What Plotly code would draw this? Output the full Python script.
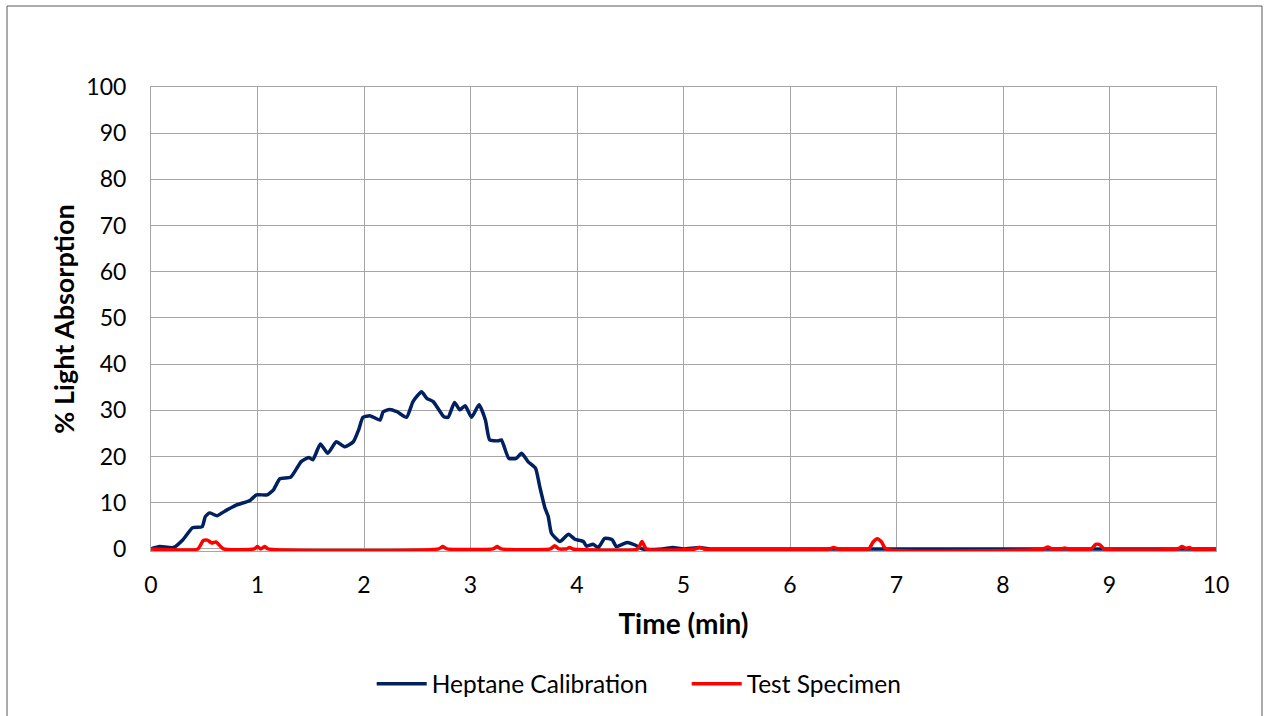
import plotly.graph_objects as go

heptane_time = [0.0, 0.08, 0.21, 0.30, 0.39, 0.48, 0.51, 0.55, 0.62, 0.71, 0.80, 0.93, 0.99, 1.09,
                1.15, 1.21, 1.31, 1.37, 1.41, 1.48, 1.52, 1.59, 1.66, 1.74, 1.82, 1.90, 1.95, 1.99,
                2.06, 2.15, 2.18, 2.24, 2.31, 2.40, 2.46, 2.54, 2.59, 2.65, 2.75, 2.79, 2.85, 2.90,
                2.95, 3.01, 3.08, 3.14, 3.18, 3.26, 3.29, 3.36, 3.43, 3.48, 3.54, 3.61, 3.65, 3.70,
                3.73, 3.76, 3.84, 3.92, 3.98, 4.06, 4.09, 4.15, 4.20, 4.26, 4.33, 4.37, 4.47, 4.55,
                4.61, 4.80, 4.90, 5.00, 5.15, 5.25, 6.0, 7.0, 8.0, 9.0, 10.0]
heptane_abs = [0.0, 0.5, 0.3, 2.0, 4.6, 4.8, 7.0, 7.8, 7.2, 8.4, 9.5, 10.5, 11.7, 11.7,
               12.8, 15.2, 15.5, 17.5, 18.9, 19.8, 19.3, 22.7, 20.7, 23.2, 22.1, 23.2, 25.8, 28.5,
               28.8, 27.9, 29.7, 30.2, 29.7, 28.5, 31.9, 34.0, 32.6, 31.9, 28.6, 28.5, 31.7, 30.1,
               31.0, 28.5, 31.2, 27.9, 23.6, 23.4, 23.6, 19.6, 19.6, 20.7, 18.9, 17.5, 13.5, 8.8,
               7.0, 3.4, 1.6, 3.2, 2.1, 1.6, 0.6, 1.0, 0.3, 2.3, 2.0, 0.5, 1.4, 0.8,
               0.0, 0.0, 0.3, 0.0, 0.3, 0.0, 0.0, 0.0, 0.0, 0.0, 0.0]

test_time = [0.0, 0.44, 0.49, 0.53, 0.57, 0.61, 0.68, 0.97, 1.00, 1.03, 1.07, 1.10, 2.70, 2.74,
             2.78, 3.21, 3.25, 3.29, 3.75, 3.79, 3.83, 3.90, 3.93, 3.96, 4.57, 4.61, 4.65, 5.11,
             5.15, 5.19, 6.37, 6.41, 6.45, 6.74, 6.78, 6.82, 6.86, 6.90, 8.38, 8.42, 8.46, 8.55,
             8.58, 8.61, 8.83, 8.87, 8.91, 8.95, 9.64, 9.68, 9.72, 9.75, 9.78, 10.0]
test_abs = [0.0, 0.0, 1.8, 1.9, 1.3, 1.5, 0.0, 0.0, 0.5, 0.0, 0.5, 0.0, 0.0, 0.5,
            0.0, 0.0, 0.5, 0.0, 0.0, 0.7, 0.0, 0.0, 0.3, 0.0, 0.0, 1.6, 0.0, 0.0,
            0.3, 0.0, 0.0, 0.3, 0.0, 0.0, 1.5, 2.2, 1.5, 0.0, 0.0, 0.4, 0.0, 0.0,
            0.2, 0.0, 0.0, 1.0, 0.9, 0.0, 0.0, 0.5, 0.1, 0.3, 0.0, 0.0]

x_ticks = list(range(0, 11))
y_ticks = list(range(0, 101, 10))

font_family = "Lato, Open Sans, sans-serif"

fig = go.Figure()
fig.add_trace(go.Scatter(x=heptane_time, y=heptane_abs, mode="lines", name="Heptane Calibration",
                         line=dict(color="#002060", width=3.5, shape="spline", smoothing=0.5)))
fig.add_trace(go.Scatter(x=test_time, y=test_abs, mode="lines", name="Test Specimen",
                         line=dict(color="#FF0000", width=3.5, shape="spline", smoothing=0.5)))

fig.update_layout(
    width=1269, height=716,
    margin=dict(l=151, r=53, t=87, b=165, autoexpand=False),
    paper_bgcolor="white", plot_bgcolor="white",
    font=dict(family=font_family, size=23, color="#000000"),
    showlegend=True,
    legend=dict(orientation="h", x=0.503, xanchor="center", y=-0.286, yanchor="middle",
                font=dict(size=24.5), itemwidth=50, entrywidth=250, entrywidthmode="pixels",
                tracegroupgap=0),
    xaxis=dict(range=[0, 10], tickvals=x_ticks, ticktext=[str(v) for v in x_ticks],
               showgrid=True, gridcolor="#A6A6A6", gridwidth=1, zeroline=False,
               showline=True, linecolor="#A6A6A6", linewidth=1, mirror=True,
               ticks="", ticklabelstandoff=13, tickfont=dict(size=23), automargin=False,
               title=dict(text="<b>Time (min)</b>", font=dict(size=28), standoff=17)),
    yaxis=dict(range=[-0.45, 100], tickvals=y_ticks, ticktext=[str(v) for v in y_ticks],
               showgrid=True, gridcolor="#A6A6A6", gridwidth=1, zeroline=False,
               showline=True, linecolor="#A6A6A6", linewidth=1, mirror=True,
               ticks="", ticklabelstandoff=19, tickfont=dict(size=23), automargin=False,
               title=dict(text="<b>% Light Absorption</b>", font=dict(size=27), standoff=3)),
    shapes=[dict(type="rect", xref="paper", yref="paper",
                 x0=(7 - 151) / 1065, x1=(1262 - 151) / 1065,
                 y0=-0.5, y1=(551 - 6) / 464,
                 line=dict(color="#595959", width=1), fillcolor="rgba(0,0,0,0)", layer="below")],
)

fig.write_html("out.html", config={"displayModeBar": False},
               post_script="document.body.style.margin='0';document.body.style.overflow='hidden';")
